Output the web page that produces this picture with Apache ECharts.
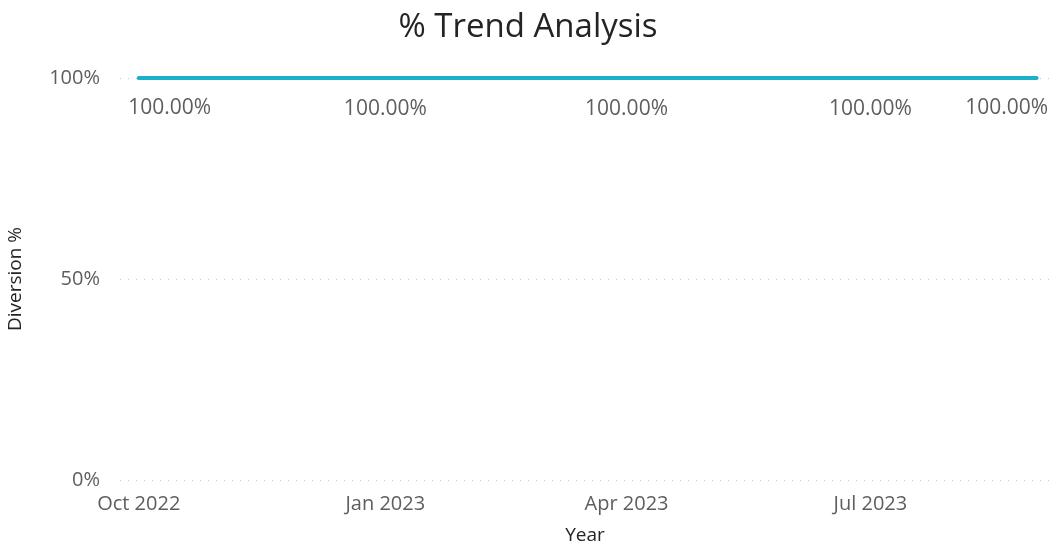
<!DOCTYPE html>
<html>
<head>
<meta charset="utf-8">
<script src="https://cdn.jsdelivr.net/npm/echarts@6/dist/echarts.min.js"></script>
<style>
  html, body { margin: 0; padding: 0; background: #fff; }
  #chart { width: 1056px; height: 546px; }
</style>
</head>
<body>
<div id="chart"></div>
<script>
// data
const dates = ["2022-10-01", "2023-01-01", "2023-04-01", "2023-07-01", "2023-09-01"];
const diversion = [1, 1, 1, 1, 1];
const tickDates = ["2022-10-01", "2023-01-01", "2023-04-01", "2023-07-01"];

const months = ["Jan", "Feb", "Mar", "Apr", "May", "Jun", "Jul", "Aug", "Sep", "Oct", "Nov", "Dec"];
const FONT = "'Open Sans', 'DejaVu Sans', sans-serif";
const ts = d => Date.UTC(+d.slice(0, 4), +d.slice(5, 7) - 1, +d.slice(8, 10));

const chart = echarts.init(document.getElementById("chart"));

const seriesData = dates.map((d, i) => {
  const item = { value: [ts(d), diversion[i]] };
  // keep the end labels inside the plot, like the original
  if (i === 0) item.label = { position: [-10, 20], align: "left", verticalAlign: "top" };
  if (i === dates.length - 1) item.label = { position: [12, 20], align: "right", verticalAlign: "top" };
  return item;
});

const option = {
  animation: false,
  title: {
    text: "% Trend Analysis",
    left: "center",
    top: 6,
    textStyle: { fontFamily: FONT, fontSize: 33, fontWeight: "normal", color: "#252423" }
  },
  grid: { left: 120, right: 6, top: 78, bottom: 66, outerBoundsMode: "none" },
  xAxis: {
    type: "value",
    min: ts("2022-09-24"),
    max: ts("2023-09-06"),
    name: "Year",
    nameLocation: "middle",
    nameGap: 46,
    nameTextStyle: { fontFamily: FONT, fontSize: 19, color: "#252423" },
    axisLine: { show: false },
    axisTick: { show: false },
    splitLine: { show: false },
    axisLabel: {
      customValues: tickDates.map(ts),
      formatter: v => { const d = new Date(v); return months[d.getUTCMonth()] + " " + d.getUTCFullYear(); },
      fontFamily: FONT,
      fontSize: 20,
      color: "#605e5c",
      margin: 14
    }
  },
  yAxis: {
    type: "value",
    min: 0,
    max: 1,
    interval: 0.5,
    name: "Diversion %",
    nameLocation: "middle",
    nameGap: 95,
    nameTextStyle: { fontFamily: FONT, fontSize: 19, color: "#252423" },
    axisLine: { show: false },
    axisTick: { show: false },
    axisLabel: {
      formatter: v => Math.round(v * 100) + "%",
      fontFamily: FONT,
      fontSize: 20,
      color: "#605e5c",
      margin: 20
    },
    splitLine: { lineStyle: { color: "#c8c8c8", type: [1, 7], width: 1 } }
  },
  series: [{
    type: "line",
    data: seriesData,
    symbol: "circle",
    symbolSize: 1,
    itemStyle: { color: "#1ab0c9" },
    lineStyle: { color: "#1ab0c9", width: 4, cap: "round" },
    label: {
      show: true,
      position: "bottom",
      distance: 20,
      formatter: p => (p.value[1] * 100).toFixed(2) + "%",
      fontFamily: FONT,
      fontSize: 21,
      color: "#605e5c"
    },
    labelLayout: { hideOverlap: false }
  }]
};

chart.setOption(option);
window.addEventListener("resize", () => chart.resize());
</script>
</body>
</html>
